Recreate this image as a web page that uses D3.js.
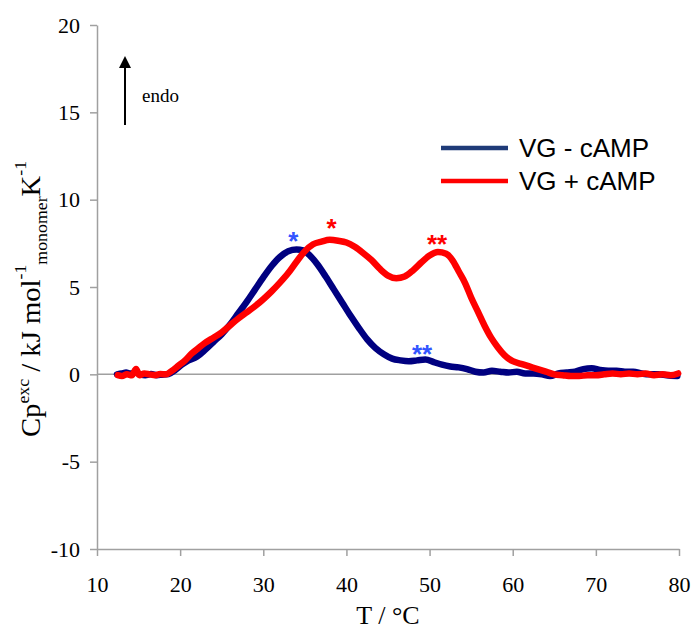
<!DOCTYPE html>
<html>
<head>
<meta charset="utf-8">
<script src="https://cdn.jsdelivr.net/npm/d3@7"></script>
<style>
  body { margin: 0; background: #fff; }
  svg { display: block; }
</style>
</head>
<body>
<div id="chart"></div>
<script>
// values (T in °C, Cp in kJ/mol/K)
const tempNoCamp = [12.4, 13.0, 13.5, 14.0, 14.6, 15.2, 15.8, 16.5, 17.2, 17.8, 18.6, 19.4, 20.2, 21.0, 22.0, 23.0, 24.0, 25.0, 26.0, 27.0, 28.0, 29.0, 30.0, 31.0, 32.0, 33.0, 34.0, 34.8, 35.5, 36.5, 37.5, 38.5, 39.5, 40.5, 41.5, 42.5, 43.5, 44.5, 45.5, 46.5, 47.5, 48.5, 49.5, 50.5, 51.5, 52.5, 53.5, 54.5, 55.5, 56.5, 57.5, 58.5, 59.5, 60.5, 61.5, 62.5, 63.5, 64.5, 65.5, 66.5, 67.5, 68.5, 69.5, 70.5, 71.5, 72.5, 73.5, 74.5, 75.5, 76.5, 77.5, 78.5, 79.8];
const cpNoCamp = [0.0, 0.05, 0.1, 0.05, 0.1, 0.0, -0.05, 0.02, -0.05, -0.02, 0.02, 0.25, 0.55, 0.8, 1.0, 1.4, 1.85, 2.3, 2.85, 3.5, 4.15, 4.85, 5.55, 6.2, 6.72, 7.05, 7.15, 7.1, 6.85, 6.3, 5.6, 4.85, 4.1, 3.35, 2.65, 2.0, 1.5, 1.15, 0.9, 0.8, 0.75, 0.8, 0.85, 0.7, 0.55, 0.45, 0.4, 0.3, 0.15, 0.1, 0.2, 0.15, 0.1, 0.15, 0.05, 0.05, 0.0, -0.1, 0.05, 0.1, 0.15, 0.3, 0.35, 0.25, 0.2, 0.2, 0.15, 0.15, 0.05, 0.0, 0.0, -0.05, -0.1];

const tempCamp = [12.5, 13.0, 13.6, 14.2, 14.7, 15.1, 15.7, 16.3, 17.0, 17.6, 18.3, 19.0, 19.8, 20.6, 21.4, 22.2, 23.0, 24.0, 25.0, 26.0, 27.0, 28.0, 29.0, 30.0, 31.0, 32.0, 33.0, 34.0, 35.0, 36.0, 37.0, 38.0, 39.0, 40.0, 41.0, 42.0, 43.0, 44.0, 45.0, 46.0, 47.0, 48.0, 49.0, 50.0, 51.0, 52.0, 52.8, 53.5, 54.3, 55.0, 55.8, 56.6, 57.4, 58.2, 59.0, 60.0, 61.0, 62.0, 63.0, 64.0, 65.0, 66.0, 67.0, 68.0, 69.0, 70.0, 71.0, 72.0, 73.0, 74.0, 75.0, 76.0, 77.0, 78.0, 79.0, 79.9];
const cpCamp = [-0.05, -0.1, 0.0, -0.05, 0.3, -0.05, 0.05, 0.0, -0.05, 0.02, 0.0, 0.2, 0.5, 0.8, 1.2, 1.5, 1.8, 2.1, 2.4, 2.8, 3.2, 3.55, 3.9, 4.3, 4.75, 5.25, 5.8, 6.45, 7.05, 7.45, 7.6, 7.7, 7.65, 7.55, 7.3, 6.95, 6.55, 6.05, 5.65, 5.5, 5.6, 5.95, 6.4, 6.8, 7.0, 6.9, 6.5, 5.9, 5.2, 4.4, 3.6, 2.8, 2.1, 1.55, 1.1, 0.75, 0.6, 0.45, 0.3, 0.15, 0.0, -0.05, -0.1, -0.1, -0.05, -0.05, 0.0, 0.05, 0.0, 0.05, 0.0, 0.05, -0.05, 0.0, -0.05, 0.05];

const xTicks = [10, 20, 30, 40, 50, 60, 70, 80];
const yTicks = [-10, -5, 0, 5, 10, 15, 20];
const seriesNames = ["VG - cAMP", "VG + cAMP"];

// peak markers: [T, Cp, label]
const marksNoCamp = [[33.6, 8.0, "*"], [49.1, 1.5, "**"]];
const marksCamp = [[38.2, 8.7, "*"], [50.9, 7.8, "**"]];

const W = 691, H = 634;
const plotLeft = 97, plotTop = 25, plotRight = 679, plotBottom = 549;
const serif = "'Liberation Serif', 'Times New Roman', serif";
const sans = "'Liberation Sans', Arial, sans-serif";

const svg = d3.select("#chart").append("svg").attr("width", W).attr("height", H);

const x = d3.scaleLinear().domain([10, 80]).range([plotLeft, plotRight]);
const y = d3.scaleLinear().domain([-10, 20]).range([plotBottom, plotTop]);

// y axis (plain hyphen for negatives, like the original)
const yAxis = svg.append("g").attr("transform", `translate(${plotLeft},0)`)
    .call(d3.axisLeft(y).tickValues(yTicks).tickFormat(d => String(d))
        .tickSize(7).tickSizeOuter(0).tickPadding(10));
yAxis.selectAll("path, line").attr("stroke", "#a0a0a0").attr("stroke-width", 1.5);
yAxis.selectAll("text").attr("font-family", serif).attr("font-size", 22).attr("fill", "#000");

// x axis
const xAxis = svg.append("g").attr("transform", `translate(0,${plotBottom})`)
    .call(d3.axisBottom(x).tickValues(xTicks).tickFormat(d => String(d))
        .tickSize(7).tickSizeOuter(0).tickPadding(20));
xAxis.selectAll("path, line").attr("stroke", "#a0a0a0").attr("stroke-width", 1.5);
xAxis.selectAll("text").attr("font-family", serif).attr("font-size", 22).attr("fill", "#000");

// zero line
svg.append("line")
    .attr("x1", plotLeft).attr("x2", plotRight)
    .attr("y1", y(0)).attr("y2", y(0))
    .attr("stroke", "#a0a0a0").attr("stroke-width", 1.5);

// curves
const line = d3.line().x(d => x(d[0])).y(d => y(d[1])).curve(d3.curveMonotoneX);
const dataNoCamp = tempNoCamp.map((t, i) => [t, cpNoCamp[i]]);
const dataCamp = tempCamp.map((t, i) => [t, cpCamp[i]]);

svg.append("path").datum(dataNoCamp).attr("d", line)
    .attr("fill", "none").attr("stroke", "#000080").attr("stroke-width", 6.5)
    .attr("stroke-linecap", "round").attr("stroke-linejoin", "round");
svg.append("path").datum(dataCamp).attr("d", line)
    .attr("fill", "none").attr("stroke", "#ff0000").attr("stroke-width", 6.5)
    .attr("stroke-linecap", "round").attr("stroke-linejoin", "round");

// asterisks
function drawMarks(list, color) {
    svg.selectAll(null).data(list).enter().append("text")
        .attr("x", d => x(d[0])).attr("y", d => y(d[1]) + 15)
        .attr("text-anchor", "middle")
        .attr("font-family", sans).attr("font-size", 26).attr("font-weight", "bold")
        .attr("fill", color)
        .text(d => d[2]);
}
drawMarks(marksNoCamp, "#3355ff");
drawMarks(marksCamp, "#ff0000");

// endo arrow
svg.append("line").attr("x1", 125).attr("x2", 125).attr("y1", 125).attr("y2", 64)
    .attr("stroke", "#000").attr("stroke-width", 2);
svg.append("path").attr("d", "M125,56 L119,68 L131,68 Z").attr("fill", "#000");
svg.append("text").attr("x", 142).attr("y", 102)
    .attr("font-family", serif).attr("font-size", 19).text("endo");

// legend
const legendColors = ["#1f3b78", "#ff0000"];
const legend = svg.append("g");
seriesNames.forEach((name, i) => {
    const ly = 148 + i * 33;
    legend.append("line").attr("x1", 441).attr("x2", 508).attr("y1", ly).attr("y2", ly)
        .attr("stroke", legendColors[i]).attr("stroke-width", 4.5);
    legend.append("text").attr("x", 519).attr("y", ly + 9)
        .attr("font-family", sans).attr("font-size", 26).attr("fill", "#000")
        .text(name);
});

// axis titles
svg.append("text").attr("x", 388).attr("y", 624).attr("text-anchor", "middle")
    .attr("font-family", serif).attr("font-size", 26).text("T / °C");

// original title is slightly stretched along its length
const yTitle = svg.append("text")
    .attr("transform", "translate(40,437) rotate(-90) scale(1.08,1)")
    .attr("text-anchor", "start")
    .attr("font-family", serif).attr("font-size", 26.5);
yTitle.append("tspan").text("Cp");
yTitle.append("tspan").attr("font-size", 16.5).attr("dy", -11).text("exc");
yTitle.append("tspan").attr("dy", 11).text(" / kJ mol");
yTitle.append("tspan").attr("font-size", 16.5).attr("dy", -14).text("-1");
yTitle.append("tspan").attr("font-size", 16.5).attr("dy", 21).text("monomer");
yTitle.append("tspan").attr("dy", -7).text("K");
yTitle.append("tspan").attr("font-size", 16.5).attr("dy", -14).text("-1");
</script>
</body>
</html>
